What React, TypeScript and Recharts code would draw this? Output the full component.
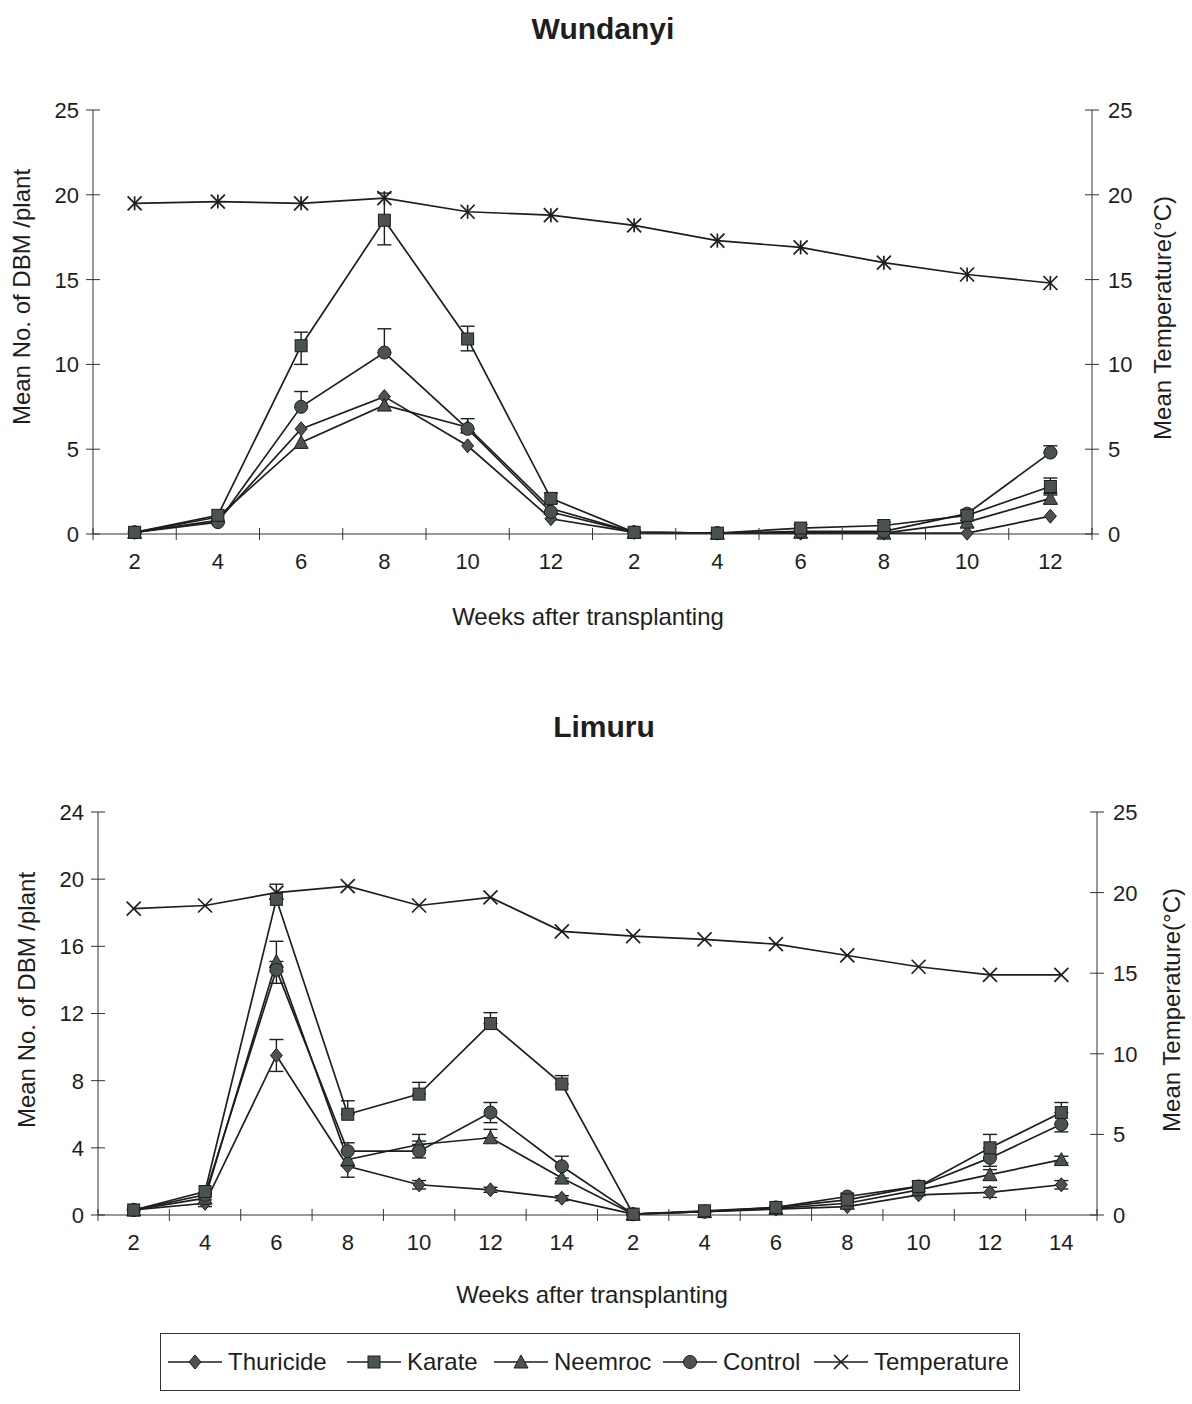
import { LineChart, Line, XAxis, YAxis, ErrorBar } from 'recharts'

type Err = [number, number] | null

const FONT = '"Liberation Sans", Arial, Helvetica, sans-serif'
const INK = '#1e1e1e'
const MARKER_FILL = '#4b5351'

// Wundanyi: two seasons, weeks after transplanting
const wundanyiWeeks = [2, 4, 6, 8, 10, 12, 2, 4, 6, 8, 10, 12]
const wundanyiThuricide = [0.1, 0.8, 6.2, 8.1, 5.2, 0.9, 0.1, 0.05, 0.05, 0.05, 0.05, 1.05]
const wundanyiKarate = [0.1, 1.1, 11.1, 18.5, 11.5, 2.1, 0.1, 0.05, 0.35, 0.5, 1.1, 2.8]
const wundanyiNeemroc = [0.1, 1.0, 5.4, 7.6, 6.3, 1.5, 0.1, 0.05, 0.1, 0.05, 0.7, 2.1]
const wundanyiControl = [0.1, 0.7, 7.5, 10.7, 6.2, 1.3, 0.1, 0.05, 0.15, 0.15, 1.2, 4.8]
const wundanyiTemp = [19.5, 19.6, 19.5, 19.8, 19.0, 18.8, 18.2, 17.3, 16.9, 16.0, 15.3, 14.8]
const wundanyiThuricideErr: Err[] = [null, null, null, null, null, null, null, null, null, null, null, null]
const wundanyiKarateErr: Err[] = [null, null, [1.1, 0.8], [1.45, 1.6], [0.7, 0.75], [0.3, 0.3], null, null, [0.2, 0.2], [0.2, 0.2], [0.3, 0.3], [0.5, 0.5]]
const wundanyiNeemrocErr: Err[] = [null, null, null, null, null, null, null, null, null, null, null, [0.3, 0.3]]
const wundanyiControlErr: Err[] = [null, null, [0, 0.9], [0, 1.4], [0, 0.6], null, null, null, null, null, null, [0, 0.4]]

// Limuru: two seasons, weeks after transplanting
const limuruWeeks = [2, 4, 6, 8, 10, 12, 14, 2, 4, 6, 8, 10, 12, 14]
const limuruThuricide = [0.3, 0.7, 9.5, 2.9, 1.8, 1.5, 1.0, 0.05, 0.2, 0.35, 0.5, 1.2, 1.35, 1.8]
const limuruKarate = [0.3, 1.4, 18.8, 6.0, 7.2, 11.4, 7.8, 0.05, 0.25, 0.45, 0.9, 1.7, 4.0, 6.1]
const limuruNeemroc = [0.3, 1.0, 15.1, 3.3, 4.2, 4.6, 2.2, 0.05, 0.2, 0.4, 0.7, 1.5, 2.4, 3.3]
const limuruControl = [0.3, 1.2, 14.6, 3.8, 3.8, 6.1, 2.9, 0.05, 0.2, 0.45, 1.1, 1.7, 3.4, 5.4]
const limuruTemp = [19.0, 19.2, 20.0, 20.4, 19.2, 19.7, 17.6, 17.3, 17.1, 16.8, 16.1, 15.4, 14.9, 14.9]
const limuruThuricideErr: Err[] = [null, [0.2, 0.2], [0.95, 0.95], [0.65, 0], [0.25, 0.25], [0.15, 0.15], [0.15, 0.15], null, null, null, null, null, [0.3, 0.3], [0.25, 0.25]]
const limuruKarateErr: Err[] = [null, null, [0, 0.9], [0, 0.8], [0, 0.7], [0, 0.65], [0, 0.5], null, null, null, null, [0.3, 0.3], [0, 0.8], [0, 0.6]]
const limuruNeemrocErr: Err[] = [null, [0.3, 0.3], [0.6, 1.2], null, [0, 0.6], [0, 0.5], [0.2, 0], null, null, null, null, null, [0.3, 0.3], [0.2, 0.2]]
const limuruControlErr: Err[] = [null, null, [0.8, 0.5], [0, 0.5], [0.4, 0.6], [0.6, 0.6], [0, 0.6], null, null, null, [0.2, 0.2], null, [0.5, 0], [0.45, 0]]

const wundanyiLeftTicks = [0, 5, 10, 15, 20, 25]
const limuruLeftTicks = [0, 4, 8, 12, 16, 20, 24]
const tempTicks = [0, 5, 10, 15, 20, 25]

const legendItems = [
  { name: 'Thuricide', marker: 'diamond', left: 165 },
  { name: 'Karate', marker: 'square', left: 344 },
  { name: 'Neemroc', marker: 'triangle', left: 491 },
  { name: 'Control', marker: 'circle', left: 660 },
  { name: 'Temperature', marker: 'cross', left: 811 },
]

type Series = {
  thuricide: number[]
  karate: number[]
  neemroc: number[]
  control: number[]
  temp: number[]
  thuricideErr: Err[]
  karateErr: Err[]
  neemrocErr: Err[]
  controlErr: Err[]
}

function buildRows(weeks: number[], s: Series) {
  return weeks.map((w, k) => ({
    i: k + 1,
    week: w,
    thuricide: s.thuricide[k],
    karate: s.karate[k],
    neemroc: s.neemroc[k],
    control: s.control[k],
    temp: s.temp[k],
    thuricideErr: s.thuricideErr[k],
    karateErr: s.karateErr[k],
    neemrocErr: s.neemrocErr[k],
    controlErr: s.controlErr[k],
  }))
}

function markerShape(kind: string, cx: number, cy: number, key?: string | number, asterisk = false) {
  const common = { fill: MARKER_FILL, stroke: INK, strokeWidth: 1 }
  switch (kind) {
    case 'diamond':
      return <polygon key={key} points={`${cx},${cy - 7} ${cx + 6},${cy} ${cx},${cy + 7} ${cx - 6},${cy}`} {...common} />
    case 'square':
      return <rect key={key} x={cx - 6} y={cy - 6} width={12} height={12} {...common} />
    case 'triangle':
      return <polygon key={key} points={`${cx},${cy - 7} ${cx + 7},${cy + 6} ${cx - 7},${cy + 6}`} {...common} />
    case 'circle':
      return <circle key={key} cx={cx} cy={cy} r={6.5} {...common} />
    default:
      return (
        <g key={key} stroke={INK} strokeWidth={1.7}>
          <line x1={cx - 7} y1={cy - 7} x2={cx + 7} y2={cy + 7} />
          <line x1={cx - 7} y1={cy + 7} x2={cx + 7} y2={cy - 7} />
          {asterisk && <line x1={cx} y1={cy - 7} x2={cx} y2={cy + 7} />}
        </g>
      )
  }
}

function dotRenderer(kind: string, asterisk = false) {
  return (props: any) => {
    const { cx, cy, index } = props
    if (cx == null || cy == null) return <g key={`e-${index}`} />
    return markerShape(kind, cx, cy, `${kind}-${index}`, asterisk)
  }
}

const tickText = { fontFamily: FONT, fontSize: 22, fill: INK }

function makeXTick(weeks: number[], step: number) {
  return (props: any) => {
    const { x, y, payload } = props
    const k = payload.value - 1
    const last = k === weeks.length - 1
    return (
      <g>
        <line x1={x - step / 2} y1={y - 6} x2={x - step / 2} y2={y + 6} stroke="#333" />
        {last && <line x1={x + step / 2} y1={y - 6} x2={x + step / 2} y2={y + 6} stroke="#333" />}
        <text x={x} y={y + 35} textAnchor="middle" {...tickText}>
          {weeks[k]}
        </text>
      </g>
    )
  }
}

function YTickLeft(props: any) {
  const { x, y, payload } = props
  return (
    <g>
      <line x1={x - 7} y1={y} x2={x + 7} y2={y} stroke="#333" />
      <text x={x - 14} y={y} dy="0.36em" textAnchor="end" {...tickText}>
        {payload.value}
      </text>
    </g>
  )
}

function YTickRight(props: any) {
  const { x, y, payload } = props
  return (
    <g>
      <line x1={x - 7} y1={y} x2={x + 7} y2={y} stroke="#333" />
      <text x={x + 16} y={y} dy="0.36em" textAnchor="start" {...tickText}>
        {payload.value}
      </text>
    </g>
  )
}

type PanelProps = {
  top: number
  height: number
  weeks: number[]
  series: Series
  leftTicks: number[]
  margin: { top: number; right: number; bottom: number; left: number }
  plotWidth: number
  asterisk: boolean
}

function Panel({ top, height, weeks, series, leftTicks, margin, plotWidth, asterisk }: PanelProps) {
  const rows = buildRows(weeks, series)
  const n = weeks.length
  const step = plotWidth / n
  const idx = weeks.map((_, k) => k + 1)
  const errProps = { width: 7, stroke: INK, strokeWidth: 1.4, direction: 'y' as const, isAnimationActive: false }
  const lineProps = { type: 'linear' as const, stroke: INK, strokeWidth: 1.7, activeDot: false, isAnimationActive: false, yAxisId: 'left' }
  return (
    <div style={{ position: 'absolute', left: 0, top }}>
      <LineChart width={1192} height={height} data={rows} margin={margin}>
        <XAxis
          dataKey="i"
          type="number"
          domain={[0.5, n + 0.5]}
          ticks={idx}
          interval={0}
          height={40}
          tickSize={0}
          tickMargin={0}
          axisLine={{ stroke: '#333' }}
          tickLine={false}
          tick={makeXTick(weeks, step)}
        />
        <YAxis
          yAxisId="left"
          orientation="left"
          width={60}
          domain={[leftTicks[0], leftTicks[leftTicks.length - 1]]}
          ticks={leftTicks}
          interval={0}
          tickSize={0}
          tickMargin={0}
          axisLine={{ stroke: '#333' }}
          tickLine={false}
          tick={YTickLeft}
        />
        <YAxis
          yAxisId="right"
          orientation="right"
          width={60}
          domain={[0, 25]}
          ticks={tempTicks}
          interval={0}
          tickSize={0}
          tickMargin={0}
          axisLine={{ stroke: '#333' }}
          tickLine={false}
          tick={YTickRight}
        />
        <Line {...lineProps} dataKey="temp" yAxisId="right" dot={dotRenderer('cross', asterisk)} />
        <Line {...lineProps} dataKey="thuricide" dot={dotRenderer('diamond')}>
          <ErrorBar dataKey="thuricideErr" {...errProps} />
        </Line>
        <Line {...lineProps} dataKey="neemroc" dot={dotRenderer('triangle')}>
          <ErrorBar dataKey="neemrocErr" {...errProps} />
        </Line>
        <Line {...lineProps} dataKey="control" dot={dotRenderer('circle')}>
          <ErrorBar dataKey="controlErr" {...errProps} />
        </Line>
        <Line {...lineProps} dataKey="karate" dot={dotRenderer('square')}>
          <ErrorBar dataKey="karateErr" {...errProps} />
        </Line>
      </LineChart>
    </div>
  )
}

function Text({ x, y, size, bold, rotate, children }: { x: number; y: number; size: number; bold?: boolean; rotate?: boolean; children: string }) {
  return (
    <div
      style={{
        position: 'absolute',
        left: x,
        top: y,
        transform: `translate(-50%, -50%)${rotate ? ' rotate(-90deg)' : ''}`,
        fontFamily: FONT,
        fontSize: size,
        fontWeight: bold ? 700 : 400,
        color: INK,
        whiteSpace: 'nowrap',
        lineHeight: 1,
      }}
    >
      {children}
    </div>
  )
}

function Legend() {
  return (
    <div
      style={{
        position: 'absolute',
        left: 160,
        top: 1333,
        width: 860,
        height: 58,
        border: '1.5px solid #333',
        boxSizing: 'border-box',
      }}
    >
      {legendItems.map((item) => (
        <div
          key={item.name}
          style={{
            position: 'absolute',
            left: item.left - 160,
            top: 0,
            height: 55,
            display: 'flex',
            alignItems: 'center',
            fontFamily: FONT,
            fontSize: 24,
            color: INK,
          }}
        >
          <svg width={58} height={20} style={{ marginRight: 4 }}>
            <line x1={2} y1={10} x2={56} y2={10} stroke={INK} strokeWidth={1.7} />
            {markerShape(item.marker, 29, 10)}
          </svg>
          {item.name}
        </div>
      ))}
    </div>
  )
}

export default function App() {
  const wundanyi: Series = {
    thuricide: wundanyiThuricide,
    karate: wundanyiKarate,
    neemroc: wundanyiNeemroc,
    control: wundanyiControl,
    temp: wundanyiTemp,
    thuricideErr: wundanyiThuricideErr,
    karateErr: wundanyiKarateErr,
    neemrocErr: wundanyiNeemrocErr,
    controlErr: wundanyiControlErr,
  }
  const limuru: Series = {
    thuricide: limuruThuricide,
    karate: limuruKarate,
    neemroc: limuruNeemroc,
    control: limuruControl,
    temp: limuruTemp,
    thuricideErr: limuruThuricideErr,
    karateErr: limuruKarateErr,
    neemrocErr: limuruNeemrocErr,
    controlErr: limuruControlErr,
  }
  return (
    <div style={{ position: 'absolute', left: 0, top: 0, width: 1192, height: 1404, background: '#fff', overflow: 'hidden' }}>
      <Text x={603} y={29} size={30} bold>Wundanyi</Text>
      <Panel
        top={0}
        height={640}
        weeks={wundanyiWeeks}
        series={wundanyi}
        leftTicks={wundanyiLeftTicks}
        margin={{ top: 110, right: 40, bottom: 66, left: 33 }}
        plotWidth={999}
        asterisk
      />
      <Text x={22} y={297} size={24} rotate>Mean No. of DBM /plant</Text>
      <Text x={1163} y={318} size={24} rotate>Mean Temperature(°C)</Text>
      <Text x={588} y={617} size={24}>Weeks after transplanting</Text>

      <Text x={604} y={727} size={30} bold>Limuru</Text>
      <Panel
        top={700}
        height={600}
        weeks={limuruWeeks}
        series={limuru}
        leftTicks={limuruLeftTicks}
        margin={{ top: 112, right: 35, bottom: 45, left: 38 }}
        plotWidth={999}
        asterisk={false}
      />
      <Text x={27} y={1000} size={24} rotate>Mean No. of DBM /plant</Text>
      <Text x={1172} y={1010} size={24} rotate>Mean Temperature(°C)</Text>
      <Text x={592} y={1295} size={24}>Weeks after transplanting</Text>

      <Legend />
    </div>
  )
}
